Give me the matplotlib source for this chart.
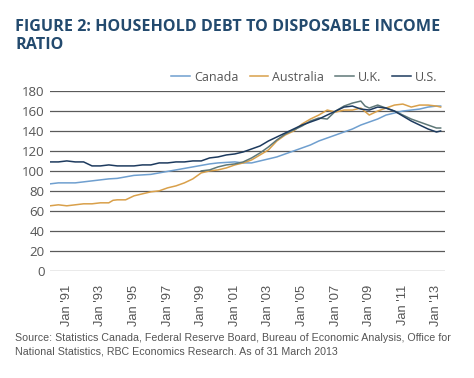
import matplotlib.pyplot as plt

# values (ratio, %)
canada_x = [1990.0, 1990.5, 1991.0, 1991.5, 1992.0, 1992.5, 1993.0, 1993.5, 1994.0, 1994.5,
            1995.0, 1995.5, 1996.0, 1996.5, 1997.0, 1997.5, 1998.0, 1998.5, 1999.0, 1999.5,
            2000.0, 2000.5, 2001.0, 2001.5, 2002.0, 2002.5, 2003.0, 2003.5, 2004.0, 2004.5,
            2005.0, 2005.5, 2006.0, 2006.5, 2007.0, 2007.5, 2008.0, 2008.5, 2009.0, 2009.5,
            2010.0, 2010.5, 2011.0, 2011.5, 2012.0, 2012.5, 2013.0, 2013.25]
canada = [87, 88, 88, 88, 89, 90, 91, 92, 92.5, 94,
          95.5, 96, 96.5, 98, 99.5, 101, 102.5, 104, 105.5, 107,
          108, 108.5, 109, 108, 108, 110, 112, 114, 117, 120,
          123, 126, 130, 133, 136, 139, 142, 146, 149, 152,
          156, 158, 160, 161, 162, 164, 165, 165]

australia_x = [1990.0, 1990.5, 1991.0, 1991.5, 1992.0, 1992.5, 1993.0, 1993.5, 1993.75, 1994.0,
               1994.5, 1995.0, 1995.5, 1996.0, 1996.5, 1997.0, 1997.5, 1998.0, 1998.5, 1999.0,
               1999.5, 2000.0, 2000.5, 2001.0, 2001.5, 2002.0, 2002.5, 2003.0, 2003.5, 2004.0,
               2004.5, 2005.0, 2005.5, 2006.0, 2006.5, 2007.0, 2007.5, 2008.0, 2008.5, 2009.0,
               2009.5, 2010.0, 2010.5, 2011.0, 2011.5, 2012.0, 2012.5, 2013.0, 2013.25]
australia = [65, 66, 65, 66, 67, 67, 68, 68, 70.5, 71,
             71, 75, 77, 79, 80, 83, 85, 88, 92, 98,
             100, 101, 103, 106, 108, 111, 116, 121, 130, 136,
             140, 147, 152, 156, 161, 159, 161, 161, 163, 156,
             160, 163, 166, 167, 164, 166, 166, 165, 164]

uk_x = [1999.0, 1999.5, 2000.0, 2000.5, 2001.0, 2001.5, 2002.0, 2002.5, 2003.0, 2003.5,
        2004.0, 2004.5, 2005.0, 2005.5, 2006.0, 2006.5, 2007.0, 2007.5, 2008.0, 2008.5,
        2008.75, 2009.0, 2009.5, 2010.0, 2010.5, 2011.0, 2011.5, 2012.0, 2012.5, 2013.0, 2013.25]
uk = [100, 101, 104, 106, 107, 109, 113, 118, 124, 131,
      137, 141, 145, 150, 153, 152, 160, 165, 168, 170,
      165, 163, 166, 163, 160, 156, 152, 149, 146, 143, 143]

us_x = canada_x
us = [109, 109, 110, 109, 109, 105, 105, 106, 105, 105,
      105, 106, 106, 108, 108, 109, 109, 110, 110, 113,
      114, 116, 117, 119, 122, 125, 130, 134, 138, 142,
      146, 149, 152, 156, 160, 164, 165, 162, 161, 164,
      163, 160, 155, 150, 146, 142, 139, 140]

tick_years = list(range(1991, 2014, 2))
tick_labels = ["Jan '%02d" % (y % 100) for y in tick_years]

fig = plt.figure(figsize=(4.74, 3.78), dpi=100)
ax = fig.add_axes([0.1055, 0.284, 0.833, 0.475])

ax.plot(canada_x, canada, color="#6f9fcf", lw=1.1, label="Canada")
ax.plot(australia_x, australia, color="#d9a04a", lw=1.1, label="Australia")
ax.plot(uk_x, uk, color="#5f7878", lw=1.1, label="U.K.")
ax.plot(us_x, us, color="#1d3a5e", lw=1.1, label="U.S.")

ax.set_xlim(1990.0, 2013.5)
ax.set_ylim(0, 180)
ax.set_yticks(range(0, 181, 20))
ax.yaxis.grid(True, color="#5a5a5a", lw=0.9)
ax.set_axisbelow(True)
for s in ax.spines.values():
    s.set_visible(False)
ax.tick_params(axis="both", length=0, colors="#555555")
ax.tick_params(axis="y", labelsize=9.5, pad=4)
for t in ax.get_yticklabels():
    t.set_family("Open Sans")
ax.set_xticks(tick_years)
ax.set_xticklabels(tick_labels, rotation=90, fontsize=9.3, family="Liberation Sans")
ax.tick_params(axis="x", pad=10)

ax.legend(loc="lower right", bbox_to_anchor=(1.0, 1.0), ncol=4, frameon=False,
          handlelength=1.5, handletextpad=0.3, columnspacing=0.9, borderaxespad=0.2,
          prop={"family": "Open Sans", "size": 9}, labelcolor="#555555")

fig.text(0.032, 0.95, "FIGURE 2: HOUSEHOLD DEBT TO DISPOSABLE INCOME\nRATIO",
         fontsize=11.6, fontweight="bold", color="#234a6e", family="Open Sans",
         va="top", linespacing=1.15)

fig.text(0.032, 0.12, "Source: Statistics Canada, Federal Reserve Board, Bureau of Economic Analysis, Office for\n"
         "National Statistics, RBC Economics Research. As of 31 March 2013",
         fontsize=7.7, color="#555555", family="Liberation Sans", va="top", linespacing=1.45)

fig.savefig("out.png", dpi=100)
